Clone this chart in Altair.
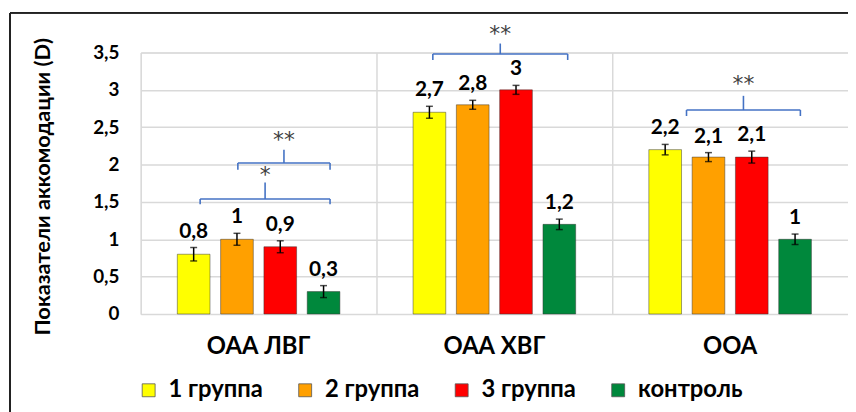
import altair as alt
import pandas as pd

categories = ["ОАА ЛВГ", "ОАА ХВГ", "ООА"]
groups = ["1 группа", "2 группа", "3 группа", "контроль"]
values_lvg = [0.8, 1.0, 0.9, 0.3]
values_hvg = [2.7, 2.8, 3.0, 1.2]
values_ooa = [2.2, 2.1, 2.1, 1.0]
errors_lvg = [0.09, 0.08, 0.08, 0.08]
errors_hvg = [0.08, 0.06, 0.06, 0.07]
errors_ooa = [0.07, 0.06, 0.08, 0.07]
colors = ["#FFFF00", "#FFA000", "#FF0000", "#00883C"]
y_ticks = [0, 0.5, 1, 1.5, 2, 2.5, 3, 3.5]

# significance brackets, x in category units (0..3)
br_x1 = [0.252, 0.412, 1.239, 2.315]
br_x2 = [0.803, 0.803, 1.811, 2.798]
br_y = [1.54, 2.02, 3.48, 2.73]
br_drop = [1.47, 1.93, 3.40, 2.65]
br_tip = [1.76, 2.20, 3.62, 2.92]
br_label = ["*", "**", "**", "**"]
br_label_y = [1.86, 2.33, 3.75, 3.08]

FONT = "Lato"
W, H = 714, 264

rows = []
for cat, vals, errs in zip(categories, [values_lvg, values_hvg, values_ooa],
                           [errors_lvg, errors_hvg, errors_ooa]):
    for g, v, e in zip(groups, vals, errs):
        rows.append({"cat": cat, "group": g, "value": v, "lo": v - e, "hi": v + e})
df = pd.DataFrame(rows)

br = pd.DataFrame({"x1": br_x1, "x2": br_x2, "y": br_y, "drop": br_drop,
                   "tip": br_tip, "label": br_label, "ly": br_label_y})
br["mid"] = (br["x1"] + br["x2"]) / 2

x_axis = alt.Axis(title=None, labelAngle=0, labelFont=FONT, labelFontSize=24,
                  labelFontWeight="bold", labelColor="#000", labelPadding=21,
                  ticks=False, domain=False, grid=True, bandPosition=0,
                  gridColor="#d9d9d9", gridWidth=1.5)
x_scale = alt.Scale(domain=categories, paddingInner=0, paddingOuter=0)
xo_scale = alt.Scale(domain=groups, paddingInner=0.245, paddingOuter=0.845)
y_scale = alt.Scale(domain=[0, 3.5], nice=False)
y_axis = alt.Axis(values=y_ticks,
                  labelExpr="replace(format(datum.value, '~g'), '.', ',')",
                  labelOverlap=False,
                  title="Показатели аккомодации (D)", titleFont=FONT,
                  titleFontSize=22, titleFontWeight="bold", titleColor="#000",
                  titleX=-99, titleY=135, titleAngle=-90, titleAlign="center",
                  titleBaseline="middle",
                  labelFont=FONT, labelFontSize=19, labelFontWeight="bold",
                  labelColor="#000", labelPadding=22, ticks=False, domain=False,
                  gridColor="#d9d9d9", gridWidth=1.5)


def xe():
    return alt.X("cat:N", sort=categories, scale=x_scale, axis=x_axis)


def xoe():
    return alt.XOffset("group:N", sort=groups, scale=xo_scale)


def ye(field):
    return alt.Y(field, scale=y_scale, axis=y_axis)


base = alt.Chart(df)

bars = base.mark_bar(stroke="#333", strokeWidth=0.8, strokeOpacity=0.6).encode(
    x=xe(), xOffset=xoe(), y=ye("value:Q"),
    color=alt.Color("group:N", sort=groups,
                    scale=alt.Scale(domain=groups, range=colors),
                    legend=alt.Legend(title=None, orient="none", direction="horizontal",
                                      legendX=-4, legendY=329, symbolType="square",
                                      symbolSize=170, symbolStrokeColor="#555",
                                      symbolStrokeWidth=0.8, labelFont=FONT,
                                      labelFontSize=24, labelFontWeight="bold",
                                      labelColor="#000", labelOffset=8, columnPadding=30)),
)

err = base.mark_rule(color="#000", strokeWidth=1.5).encode(
    x=xe(), xOffset=xoe(), y=ye("lo:Q"), y2="hi:Q")
cap_lo = base.mark_tick(color="#000", thickness=1.5, size=7, orient="horizontal").encode(
    x=xe(), xOffset=xoe(), y=ye("lo:Q"))
cap_hi = base.mark_tick(color="#000", thickness=1.5, size=7, orient="horizontal").encode(
    x=xe(), xOffset=xoe(), y=ye("hi:Q"))
labels = base.transform_calculate(
    lab="replace(toString(datum.value), '.', ',')"
).mark_text(font=FONT, fontSize=21, fontWeight="bold", color="#000", dy=-10,
            baseline="alphabetic").encode(
    x=xe(), xOffset=xoe(), y=ye("hi:Q"), text="lab:N")

bx = alt.Scale(domain=[0, 3], nice=False, zero=False)
bbase = alt.Chart(br)
BCOL = "#4472C4"
h_line = bbase.mark_rule(color=BCOL, strokeWidth=1.6).encode(
    x=alt.X("x1:Q", scale=bx, axis=None), x2="x2:Q", y=ye("y:Q"))
l_drop = bbase.mark_rule(color=BCOL, strokeWidth=1.6).encode(
    x=alt.X("x1:Q", scale=bx, axis=None), y=ye("drop:Q"), y2="y:Q")
r_drop = bbase.mark_rule(color=BCOL, strokeWidth=1.6).encode(
    x=alt.X("x2:Q", scale=bx, axis=None), y=ye("drop:Q"), y2="y:Q")
tip = bbase.mark_rule(color=BCOL, strokeWidth=1.6).encode(
    x=alt.X("mid:Q", scale=bx, axis=None), y=ye("y:Q"), y2="tip:Q")
stars = bbase.mark_text(font="DejaVu Sans", fontSize=22, color="#404040",
                        baseline="middle").encode(
    x=alt.X("mid:Q", scale=bx, axis=None), y=ye("ly:Q"), text="label:N")

frame_v = alt.Chart(br).mark_rule(color="#222", strokeWidth=1.5).encode(
    x=alt.value(-132), y=alt.value(-40), y2=alt.value(370))
frame_h = alt.Chart(br).mark_rule(color="#222", strokeWidth=1.5).encode(
    x=alt.value(-132), x2=alt.value(W + 20), y=alt.value(-40))

band_layer = alt.layer(bars, err, cap_lo, cap_hi, labels)
br_layer = alt.layer(h_line, l_drop, r_drop, tip, stars, frame_v, frame_h)

chart = alt.layer(band_layer, br_layer).resolve_scale(x="independent").properties(
    width=W, height=H,
    autosize=alt.AutoSizeParams(type="none"),
    padding={"left": 134, "top": 43, "right": 0, "bottom": 97},
).configure_view(stroke="#d9d9d9", strokeWidth=1.5).configure(background="white")

chart.save("out.html", embed_options={"renderer": "svg", "actions": False})
